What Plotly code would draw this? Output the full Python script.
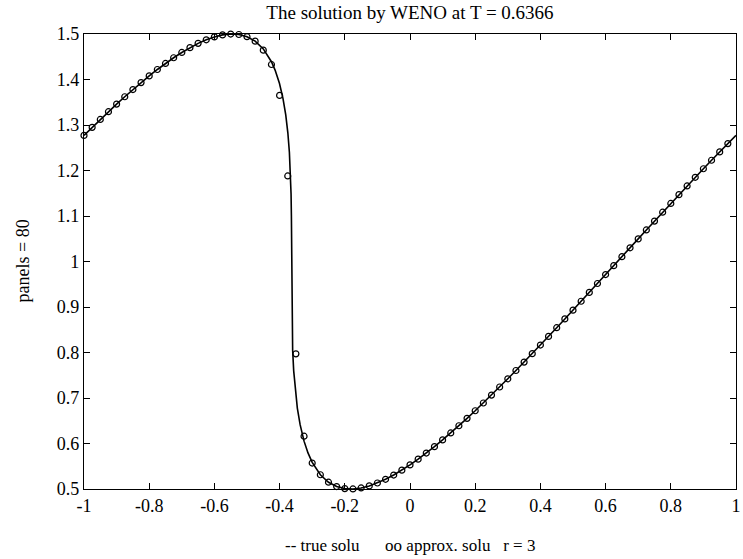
import numpy as np
import plotly.graph_objects as go

# Burgers' equation test, 80 panels on [-1, 1]
PANELS = 80
x_nodes = np.linspace(-1.0, 1.0, PANELS + 1)

# exact solution at the mesh nodes
u_true = [
    1.2771, 1.2948, 1.3122, 1.3292, 1.3459, 1.3621, 1.3779, 1.3932, 1.4079, 1.4220,
    1.4353, 1.4478, 1.4594, 1.4700, 1.4794, 1.4873, 1.4936, 1.4980, 1.4999, 1.4989,
    1.4941, 1.4843, 1.4672, 1.4390, 1.3903, 1.2850, 0.7030, 0.6052, 0.5585, 0.5313,
    0.5149, 0.5054, 0.5009, 0.5001, 0.5023, 0.5068, 0.5132, 0.5213, 0.5307, 0.5414,
    0.5530, 0.5656, 0.5790, 0.5931, 0.6079, 0.6232, 0.6390, 0.6553, 0.6720, 0.6890,
    0.7064, 0.7242, 0.7422, 0.7604, 0.7789, 0.7975, 0.8164, 0.8354, 0.8545, 0.8738,
    0.8931, 0.9126, 0.9321, 0.9516, 0.9713, 0.9909, 1.0105, 1.0301, 1.0497, 1.0693,
    1.0888, 1.1083, 1.1276, 1.1469, 1.1660, 1.1850, 1.2038, 1.2225, 1.2409, 1.2591,
    1.2771,
]

# WENO (r = 3) approximation at the periodic nodes x = -1 ... 0.975
u_weno = [
    1.2771, 1.2948, 1.3122, 1.3292, 1.3459, 1.3621, 1.3779, 1.3932, 1.4079, 1.4220,
    1.4353, 1.4478, 1.4594, 1.4700, 1.4794, 1.4873, 1.4936, 1.4980, 1.4999, 1.4989,
    1.4941, 1.4843, 1.4645, 1.4330, 1.3650, 1.1880, 0.7970, 0.6160, 0.5570, 0.5313,
    0.5149, 0.5054, 0.5009, 0.5001, 0.5023, 0.5068, 0.5132, 0.5213, 0.5307, 0.5414,
    0.5530, 0.5656, 0.5790, 0.5931, 0.6079, 0.6232, 0.6390, 0.6553, 0.6720, 0.6890,
    0.7064, 0.7242, 0.7422, 0.7604, 0.7789, 0.7975, 0.8164, 0.8354, 0.8545, 0.8738,
    0.8931, 0.9126, 0.9321, 0.9516, 0.9713, 0.9909, 1.0105, 1.0301, 1.0497, 1.0693,
    1.0888, 1.1083, 1.1276, 1.1469, 1.1660, 1.1850, 1.2038, 1.2225, 1.2409, 1.2591,
]

# extra samples of the exact solution across the steep front
x_front = [
    -0.41384, -0.40052, -0.38969, -0.38114, -0.37464, -0.36993, -0.36675,
    -0.36481, -0.36380, -0.36343, -0.36338, -0.36333, -0.36296, -0.36195,
    -0.36001, -0.35683, -0.35212, -0.34562, -0.33707, -0.32624, -0.31292,
]
u_front = [
    1.42074, 1.39167, 1.35868, 1.32211, 1.28232, 1.23972, 1.19471,
    1.14776, 1.09934, 1.04992, 1.00000, 0.95008, 0.90066, 0.85224,
    0.80529, 0.76029, 0.71768, 0.67789, 0.64132, 0.60834, 0.57926,
]

xtick_vals = [-1, -0.8, -0.6, -0.4, -0.2, 0, 0.2, 0.4, 0.6, 0.8, 1]
xtick_text = ["-1", "-0.8", "-0.6", "-0.4", "-0.2", "0", "0.2", "0.4", "0.6", "0.8", "1"]
ytick_vals = [0.5, 0.6, 0.7, 0.8, 0.9, 1.0, 1.1, 1.2, 1.3, 1.4, 1.5]
ytick_text = ["0.5", "0.6", "0.7", "0.8", "0.9", "1", "1.1", "1.2", "1.3", "1.4", "1.5"]

# exact curve: nodes plus front samples, ordered in x
xs = np.concatenate([x_nodes, np.array(x_front)])
us = np.concatenate([np.array(u_true), np.array(u_front)])
order = np.argsort(xs, kind="stable")
x_line, u_line = xs[order], us[order]

FONT = "Liberation Serif, Times New Roman, serif"

fig = go.Figure()
fig.add_trace(go.Scatter(
    x=x_line, y=u_line, mode="lines",
    line=dict(color="black", width=1.6),
    hoverinfo="skip", showlegend=False,
))
fig.add_trace(go.Scatter(
    x=x_nodes[:PANELS], y=u_weno, mode="markers",
    marker=dict(symbol="circle-open", size=6, color="black", line=dict(width=1.2)),
    cliponaxis=False, showlegend=False,
))

axis_common = dict(
    showgrid=False, zeroline=False,
    showline=True, linecolor="black", linewidth=1.2, mirror="ticks",
    ticks="inside", ticklen=6, tickwidth=1.2, tickcolor="black",
    ticklabeloverflow="allow",
    tickfont=dict(family=FONT, size=18, color="black"),
)

fig.update_layout(
    width=743, height=559,
    margin=dict(l=84, r=2, t=34, b=70),
    paper_bgcolor="white", plot_bgcolor="white",
    title=dict(
        text="The solution by WENO at T = 0.6366",
        font=dict(family=FONT, size=19, color="black"),
        x=0.5, xref="paper", xanchor="center",
        y=1 - 12 / 559, yref="container", yanchor="middle",
    ),
    xaxis=dict(range=[-1, 1], tickvals=xtick_vals, ticktext=xtick_text, **axis_common),
    yaxis=dict(range=[0.5, 1.5], tickvals=ytick_vals, ticktext=ytick_text, **axis_common),
    annotations=[
        dict(
            text="-- true solu\u00a0\u00a0\u00a0\u00a0\u00a0 oo approx. solu\u00a0\u00a0 r = 3",
            xref="paper", yref="paper", x=0.5, y=0,
            xanchor="center", yanchor="middle", yshift=-56, showarrow=False,
            font=dict(family=FONT, size=17, color="black"),
        ),
        dict(
            text="panels = 80",
            xref="paper", yref="paper", x=0, y=0.5,
            xanchor="center", yanchor="middle", xshift=-62, textangle=-90,
            showarrow=False,
            font=dict(family=FONT, size=18, color="black"),
        ),
    ],
)

fig.write_html("out.html", config={"displayModeBar": False})
